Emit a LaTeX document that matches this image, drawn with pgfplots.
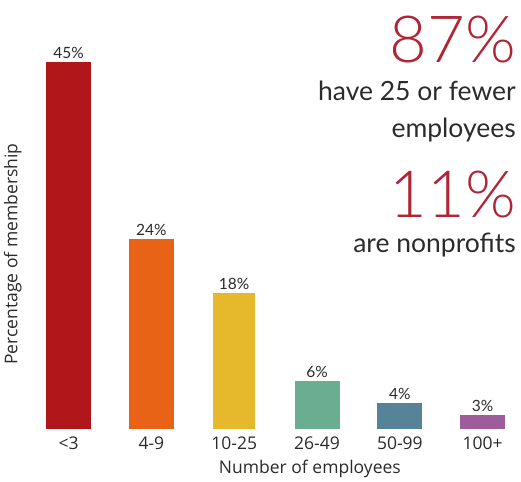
\documentclass[border=0pt]{standalone}
\usepackage{pgfplots}
\pgfplotsset{compat=1.18}
\usepackage{fontspec}
\setmainfont{Lato}
\newfontfamily\latolight{Lato Light}
\newfontfamily\osans{Open Sans}
\definecolor{cRed}{HTML}{B0171A}
\definecolor{cOrange}{HTML}{E86315}
\definecolor{cYellow}{HTML}{E6B82B}
\definecolor{cGreen}{HTML}{6AAE91}
\definecolor{cBlue}{HTML}{578399}
\definecolor{cPurple}{HTML}{9E5C9A}
\definecolor{bigRed}{HTML}{B02535}
\definecolor{txt}{HTML}{2B2B2B}
\begin{document}
\begin{tikzpicture}[x=1pt,y=1pt]
\useasboundingbox (0,0) rectangle (521,481);
\begin{axis}[
  at={(30pt,52pt)}, anchor=south west,
  scale only axis, width=485pt, height=389pt,
  xmin=-0.465, xmax=5.39, ymin=0, ymax=47.7,
  axis line style={draw=none}, tick style={draw=none},
  ytick=\empty,
  xtick={0,1,2,3,4,5},
  xticklabels={{<3},{4-9},{10-25},{26-49},{50-99},{100+}},
  xticklabel style={font=\osans\fontsize{17.5}{20}\selectfont, text=txt},
  xlabel={Number of employees},
  ylabel={Percentage of membership},
  xlabel style={at={(axis description cs:0.577,-0.102)}, anchor=center, font=\osans\fontsize{17.5}{20}\selectfont, text=txt},
  ylabel style={at={(axis description cs:-0.01,0.45)}, anchor=south, font=\osans\fontsize{17.5}{20}\selectfont, text=txt},
  ybar, bar width=45pt, bar shift=0pt,
  nodes near coords,
  point meta=explicit symbolic,
  every node near coord/.append style={font=\fontsize{15.5}{17}\selectfont, text=txt},
]
\addplot[fill=cRed, draw=none] coordinates {(0,45) [45\%]};
\addplot[fill=cOrange, draw=none] coordinates {(1,23.3) [24\%]};
\addplot[fill=cYellow, draw=none, bar width=42pt] coordinates {(2,16.7) [18\%]};
\addplot[fill=cGreen, draw=none] coordinates {(3,5.9) [6\%]};
\addplot[fill=cBlue, draw=none] coordinates {(4,3.2) [4\%]};
\addplot[fill=cPurple, draw=none] coordinates {(5,1.7) [3\%]};
\end{axis}
\node[anchor=base east, inner sep=0pt, text=bigRed, font=\latolight\fontsize{65}{70}\selectfont] at (516,418) {87\%};
\node[anchor=base east, inner sep=0pt, text=txt, font=\fontsize{26.5}{30}\selectfont] at (516,380) {have 25 or fewer};
\node[anchor=base east, inner sep=0pt, text=txt, font=\fontsize{26.5}{30}\selectfont] at (516,343) {employees};
\node[anchor=base east, inner sep=0pt, text=bigRed, font=\latolight\fontsize{65}{70}\selectfont] at (516,263) {11\%};
\node[anchor=base east, inner sep=0pt, text=txt, font=\fontsize{26.5}{30}\selectfont] at (516,228) {are nonprofits};
\end{tikzpicture}
\end{document}
